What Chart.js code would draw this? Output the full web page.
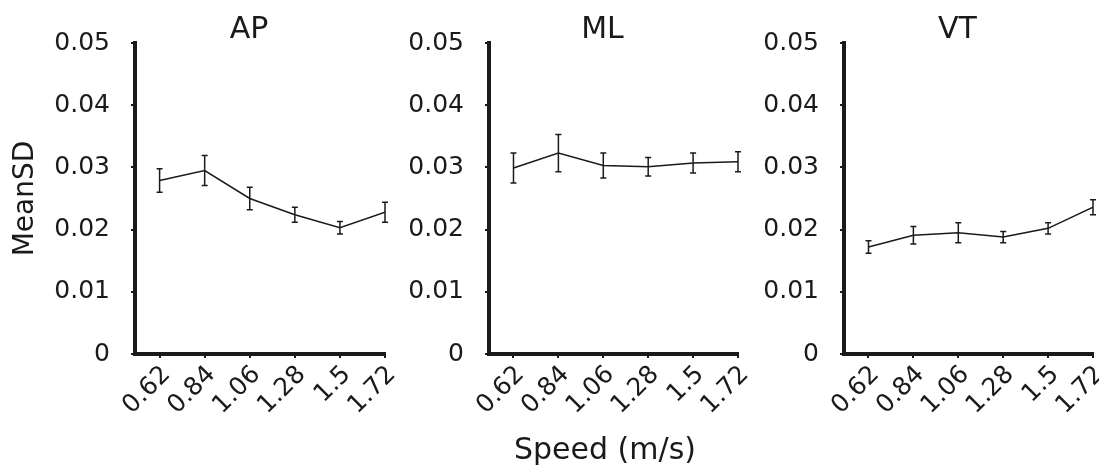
<!DOCTYPE html>
<html>
<head>
<meta charset="utf-8">
<script src="https://cdn.jsdelivr.net/npm/chart.js@4.4.1/dist/chart.umd.min.js"></script>
<style>
  body { margin: 0; background: #fff; }
  #wrap { position: relative; width: 1099px; height: 465px; overflow: hidden; }
  canvas { position: absolute; top: 0; }
  #xlabel {
    position: absolute; left: 505px; top: 431px; width: 200px;
    text-align: center; font: 30px "DejaVu Sans"; line-height: 36px; color: #1a1a1a;
  }
</style>
</head>
<body>
<div id="wrap">
  <canvas id="APChart" width="400" height="465" style="left:0px"></canvas>
  <canvas id="MLChart" width="350" height="465" style="left:400px"></canvas>
  <canvas id="VTChart" width="349" height="465" style="left:750px"></canvas>
  <div id="xlabel">Speed (m/s)</div>
</div>
<script>
// speeds on the x axis
const speeds = [0.62, 0.84, 1.06, 1.28, 1.5, 1.72];
const speedLabels = ["0.62", "0.84", "1.06", "1.28", "1.5", "1.72"];

// mean SD per direction, with error bar half-lengths
const apMean = [0.0279, 0.0295, 0.0250, 0.0224, 0.0203, 0.0228];
const apErr = [0.0019, 0.0024, 0.0018, 0.0012, 0.0010, 0.0016];
const mlMean = [0.0299, 0.0323, 0.0303, 0.0301, 0.0307, 0.0309];
const mlErr = [0.0024, 0.0030, 0.0020, 0.0015, 0.0016, 0.0016];
const vtMean = [0.0172, 0.0191, 0.0195, 0.0188, 0.0202, 0.0236];
const vtErr = [0.0010, 0.0014, 0.0016, 0.0009, 0.0009, 0.0012];

const yMax = 0.05;
const yStep = 0.01;
const FONT = "DejaVu Sans";
const INK = "#1a1a1a";

// vertical error bars with small caps
const errorBars = {
  id: "errorBars",
  afterDatasetsDraw(chart) {
    const { ctx, scales } = chart;
    chart.data.datasets.forEach(function (ds) {
      if (!ds.errors) return;
      ctx.save();
      ctx.strokeStyle = INK;
      ctx.lineWidth = 1.5;
      ds.data.forEach(function (pt, i) {
        const x = scales.x.getPixelForValue(pt.x);
        const top = scales.y.getPixelForValue(pt.y + ds.errors[i]);
        const bot = scales.y.getPixelForValue(pt.y - ds.errors[i]);
        ctx.beginPath();
        ctx.moveTo(x, top);
        ctx.lineTo(x, bot);
        ctx.moveTo(x - 3, top);
        ctx.lineTo(x + 3, top);
        ctx.moveTo(x - 3, bot);
        ctx.lineTo(x + 3, bot);
        ctx.stroke();
      });
      ctx.restore();
    });
  },
};

// panel title, a bit left of the plot centre like the original
const panelTitle = {
  id: "panelTitle",
  afterDraw(chart, args, opts) {
    const { ctx, chartArea } = chart;
    ctx.save();
    ctx.font = "30px " + FONT;
    ctx.fillStyle = INK;
    ctx.textAlign = "center";
    ctx.textBaseline = "middle";
    ctx.fillText(opts.text, (chartArea.left + chartArea.right) / 2 - 11, 30);
    ctx.restore();
  },
};

function makePanel(id, title, means, errs, yAxisWidth, padRight, showYTitle) {
  const points = speeds.map(function (s, i) {
    return { x: s, y: means[i] };
  });

  return new Chart(document.getElementById(id), {
    type: "line",
    data: {
      datasets: [
        {
          data: points,
          errors: errs,
          borderColor: INK,
          borderWidth: 1.5,
          pointRadius: 0,
          tension: 0,
        },
      ],
    },
    options: {
      responsive: false,
      animation: false,
      layout: { padding: { top: 43, right: padRight, left: 0, bottom: 0 } },
      plugins: {
        legend: { display: false },
        tooltip: { enabled: false },
        panelTitle: { text: title },
      },
      scales: {
        x: {
          type: "linear",
          min: 0.5,
          max: 1.72,
          afterBuildTicks: function (scale) {
            scale.ticks = speeds.map(function (v) {
              return { value: v };
            });
          },
          afterFit: function (scale) {
            scale.height = 111;
            scale.paddingLeft = 0;
            scale.paddingRight = 0;
          },
          border: { display: true, color: INK, width: 4 },
          grid: { drawOnChartArea: false, drawTicks: true, tickLength: 4, color: INK, lineWidth: 2 },
          ticks: {
            autoSkip: false,
            minRotation: 45,
            maxRotation: 45,
            padding: 2,
            labelOffset: 7,
            color: INK,
            font: { family: FONT, size: 25 },
            callback: function (v, i) {
              return speedLabels[i];
            },
          },
        },
        y: {
          min: 0,
          max: yMax,
          afterFit: function (scale) {
            scale.width = yAxisWidth;
          },
          border: { display: true, color: INK, width: 4 },
          grid: { drawOnChartArea: false, drawTicks: true, tickLength: 4, color: INK, lineWidth: 2 },
          ticks: {
            stepSize: yStep,
            padding: 21,
            color: INK,
            font: { family: FONT, size: 25 },
            callback: function (v) {
              return v === 0 ? "0" : v.toFixed(2);
            },
          },
          title: {
            display: showYTitle,
            text: "MeanSD",
            color: INK,
            font: { family: FONT, size: 28, lineHeight: 1.2 },
            padding: { top: 9, bottom: 0 },
          },
        },
      },
    },
    plugins: [errorBars, panelTitle],
  });
}

makePanel("APChart", "AP", apMean, apErr, 135, 15, true);
makePanel("MLChart", "ML", mlMean, mlErr, 89, 12, false);
makePanel("VTChart", "VT", vtMean, vtErr, 94, 6, false);
</script>
</body>
</html>
